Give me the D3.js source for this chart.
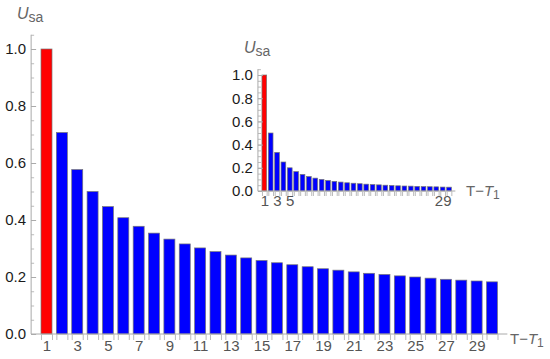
<!DOCTYPE html>
<html>
<head>
<meta charset="utf-8">
<script src="https://cdn.jsdelivr.net/npm/d3@7"></script>
<style>
  body { margin: 0; background: #fff; }
</style>
</head>
<body>
<div id="chart"></div>
<script>
var width = 550;
var height = 359;
var fontFam = "'Liberation Sans', Arial, sans-serif";

// main chart values
var steps = d3.range(1, 31);
var mainValues = [1.0, 0.707, 0.577, 0.5, 0.447, 0.408, 0.378, 0.354, 0.333, 0.316,
  0.302, 0.289, 0.277, 0.267, 0.258, 0.25, 0.243, 0.236, 0.229, 0.224,
  0.218, 0.213, 0.209, 0.204, 0.2, 0.196, 0.192, 0.189, 0.186, 0.183];
// inset values
var insetValues = [1.0, 0.5, 0.333, 0.25, 0.2, 0.167, 0.143, 0.125, 0.111, 0.1,
  0.091, 0.083, 0.077, 0.071, 0.067, 0.063, 0.059, 0.056, 0.053, 0.05,
  0.048, 0.045, 0.043, 0.042, 0.04, 0.038, 0.037, 0.036, 0.034, 0.033];
var yTicks = [0, 0.2, 0.4, 0.6, 0.8, 1.0];
var mainXLabels = [1, 3, 5, 7, 9, 11, 13, 15, 17, 19, 21, 23, 25, 27, 29];
var insetXLabels = [1, 3, 5, 29];

var svg = d3.select("#chart").append("svg")
  .attr("width", width)
  .attr("height", height)
  .style("font-family", fontFam);

function drawPanel(opts) {
  var values = opts.values;
  var x = d3.scaleLinear().domain([1, 30]).range(opts.xRange);
  var y = d3.scaleLinear().domain([0, 1.05]).range(opts.yRange);
  var bw = opts.barWidth;
  var halfW = bw / (x(2) - x(1)) / 2;
  var g = svg.append("g");

  // bars
  g.selectAll("rect.bar")
    .data(values)
    .enter()
    .append("rect")
    .attr("class", "bar")
    .attr("x", function(d, i) { return x(steps[i]) - bw / 2; })
    .attr("y", function(d) { return y(d); })
    .attr("width", bw)
    .attr("height", function(d) { return y(0) - y(d); })
    .attr("fill", function(d, i) { return i == 0 ? "#ff0000" : "#0000ff"; })
    .attr("stroke", "#777")
    .attr("stroke-width", 0.7);

  // y minor ticks
  g.append("g")
    .attr("transform", "translate(" + x(0) + ",0)")
    .call(d3.axisLeft(y).tickValues(d3.range(0, 1.06, 0.05)).tickSize(-3).tickFormat(""))
    .call(function(s) { s.select(".domain").remove(); s.selectAll("line").attr("stroke", "#bbb"); });

  // y axis
  g.append("g")
    .attr("transform", "translate(" + x(0) + ",0)")
    .call(d3.axisLeft(y).tickValues(yTicks).tickSize(-5).tickPadding(5).tickFormat(d3.format(".1f")))
    .call(function(s) {
      s.attr("font-family", null);
      s.select(".domain").attr("stroke", "#aaa").attr("d", "M0," + y(0) + "V" + y(1.05));
      s.selectAll("line").attr("stroke", "#aaa");
      s.selectAll("text").attr("fill", "#1a1a1a").style("font-family", fontFam).style("font-size", opts.fontSize + "px");
    });

  // x edge ticks
  var edges = [];
  steps.forEach(function(n) { edges.push(n - halfW); edges.push(n + halfW); });
  g.append("g")
    .attr("transform", "translate(0," + y(0) + ")")
    .call(d3.axisBottom(x).tickValues(edges).tickSize(opts.tickLen).tickFormat(""))
    .call(function(s) {
      s.select(".domain").attr("stroke", "#aaa").attr("d", "M" + x(0) + ",0H" + x(31));
      s.selectAll("line").attr("stroke", "#bbb");
    });

  // x labels
  g.append("g")
    .attr("transform", "translate(0," + y(0) + ")")
    .call(d3.axisBottom(x).tickValues(opts.xLabels).tickSize(0).tickPadding(opts.labelPad).tickFormat(d3.format("d")))
    .call(function(s) {
      s.attr("font-family", null);
      s.select(".domain").remove();
      s.selectAll("text").attr("fill", "#555").style("font-family", fontFam).style("font-size", opts.fontSize + "px");
    });

  // y label U_sa
  var yl = svg.append("text")
    .attr("x", opts.yLabel[0])
    .attr("y", opts.yLabel[1])
    .attr("fill", "#666")
    .style("font-size", "16px");
  yl.append("tspan").style("font-style", "italic").text("U");
  yl.append("tspan").attr("dy", 3).style("font-size", "14px").text("sa");

  // x label T-T1
  var xl = svg.append("text")
    .attr("x", opts.xLabel[0])
    .attr("y", opts.xLabel[1])
    .attr("fill", "#666")
    .style("font-size", "15px");
  xl.append("tspan").text("T\u2212");
  xl.append("tspan").style("font-style", "italic").text("T");
  xl.append("tspan").attr("dy", 3).style("font-size", "12px").text("1");
}

drawPanel({
  values: mainValues,
  xRange: [46.5, 492],
  yRange: [334, 334 - 1.05 * 285],
  barWidth: 11,
  tickLen: 6,
  labelPad: 6,
  fontSize: 15,
  xLabels: mainXLabels,
  yLabel: [17, 19],
  xLabel: [510, 344]
});

drawPanel({
  values: insetValues,
  xRange: [264.3, 449],
  yRange: [191, 191 - 1.05 * 116],
  barWidth: 4.7,
  tickLen: 5,
  labelPad: 4,
  fontSize: 15,
  xLabels: insetXLabels,
  yLabel: [244, 53],
  xLabel: [466, 196]
});
</script>
</body>
</html>
